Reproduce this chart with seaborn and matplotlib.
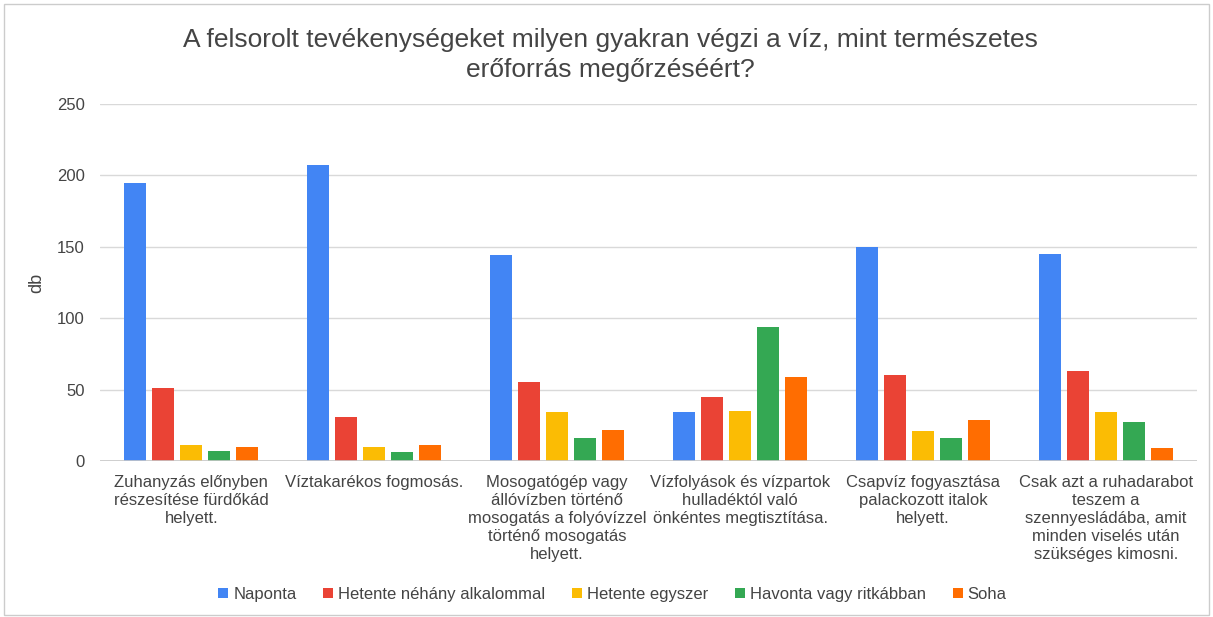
import pandas as pd
import matplotlib.pyplot as plt
import seaborn as sns
from matplotlib.patches import Rectangle

categories = [
    'Zuhanyzás előnyben részesítése fürdőkád helyett.',
    'Víztakarékos fogmosás.',
    'Mosogatógép vagy állóvízben történő mosogatás a folyóvízzel történő mosogatás helyett.',
    'Vízfolyások és vízpartok hulladéktól való önkéntes megtisztítása.',
    'Csapvíz fogyasztása palackozott italok helyett.',
    'Csak azt a ruhadarabot teszem a szennyesládába, amit minden viselés után szükséges kimosni.',
]
tick_labels = [
    'Zuhanyzás előnyben\nrészesítése fürdőkád\nhelyett.',
    'Víztakarékos fogmosás.',
    'Mosogatógép vagy\nállóvízben történő\nmosogatás a folyóvízzel\ntörténő mosogatás\nhelyett.',
    'Vízfolyások és vízpartok\nhulladéktól való\nönkéntes megtisztítása.',
    'Csapvíz fogyasztása\npalackozott italok\nhelyett.',
    'Csak azt a ruhadarabot\nteszem a\nszennyesládába, amit\nminden viselés után\nszükséges kimosni.',
]
series = ['Naponta', 'Hetente néhány alkalommal', 'Hetente egyszer', 'Havonta vagy ritkábban', 'Soha']
naponta = [195, 207, 144, 34, 150, 145]
hetente_nehany = [51, 31, 55, 45, 60, 63]
hetente_egyszer = [11, 10, 34, 35, 21, 34]
havonta = [7, 6, 16, 94, 16, 27]
soha = [10, 11, 22, 59, 29, 9]
colors = ['#4285F4', '#EA4335', '#FBBC04', '#34A853', '#FF6D01']

rows = []
for name, vals in zip(series, [naponta, hetente_nehany, hetente_egyszer, havonta, soha]):
    for cat, v in zip(categories, vals):
        rows.append({'kategoria': cat, 'gyakorisag': name, 'db': v})
df = pd.DataFrame(rows)

sns.set_theme(style="white")
plt.rcParams['font.family'] = ['Liberation Sans', 'DejaVu Sans']

fig = plt.figure(figsize=(12.13, 6.17), dpi=100)
ax = fig.add_axes([0.0824, 0.2528, 0.9046, 0.5786])
sns.barplot(data=df, x='kategoria', y='db', hue='gyakorisag', order=categories,
            hue_order=series, palette=colors, width=0.765, gap=0.21, ax=ax,
            saturation=1, edgecolor='none', errorbar=None)

ax.set_ylim(0, 250)
ax.set_yticks([0, 50, 100, 150, 200, 250])
ax.set_xlim(-0.5, 5.5)
ax.yaxis.grid(True, color='#d9d9d9', linewidth=1)
ax.set_axisbelow(True)
for s in ['top', 'right', 'left', 'bottom']:
    ax.spines[s].set_visible(False)
ax.axhline(0, color='#c8c8c8', linewidth=1.2, zorder=3)
ax.tick_params(axis='y', length=0, labelsize=12, labelcolor='#444444', pad=11)
ax.tick_params(axis='x', length=0, labelsize=12, labelcolor='#444444', pad=10)
ax.set_xticks(range(len(tick_labels)))
ax.set_xticklabels(tick_labels, linespacing=1.25)
ax.set_xlabel('')
ax.set_ylabel('db', fontsize=13, color='#444444', labelpad=8)

fig.suptitle('A felsorolt tevékenységeket milyen gyakran végzi a víz, mint természetes\nerőforrás megőrzéséért?',
             x=0.503, y=0.955, fontsize=19, color='#444444', linespacing=1.35)

handles, labels = ax.get_legend_handles_labels()
ax.get_legend().remove()
fig.legend(handles, labels, loc='center', bbox_to_anchor=(0.505, 0.037), ncol=5, frameon=False,
           fontsize=12, handlelength=0.6, handleheight=0.6, handletextpad=0.3,
           columnspacing=1.6, labelcolor='#444444')

fig.patches.append(Rectangle((0.003, 0.004), 0.994, 0.99, transform=fig.transFigure,
                             fill=False, edgecolor='#cccccc', linewidth=1))

plt.savefig('out.png', dpi=100)
plt.close()
